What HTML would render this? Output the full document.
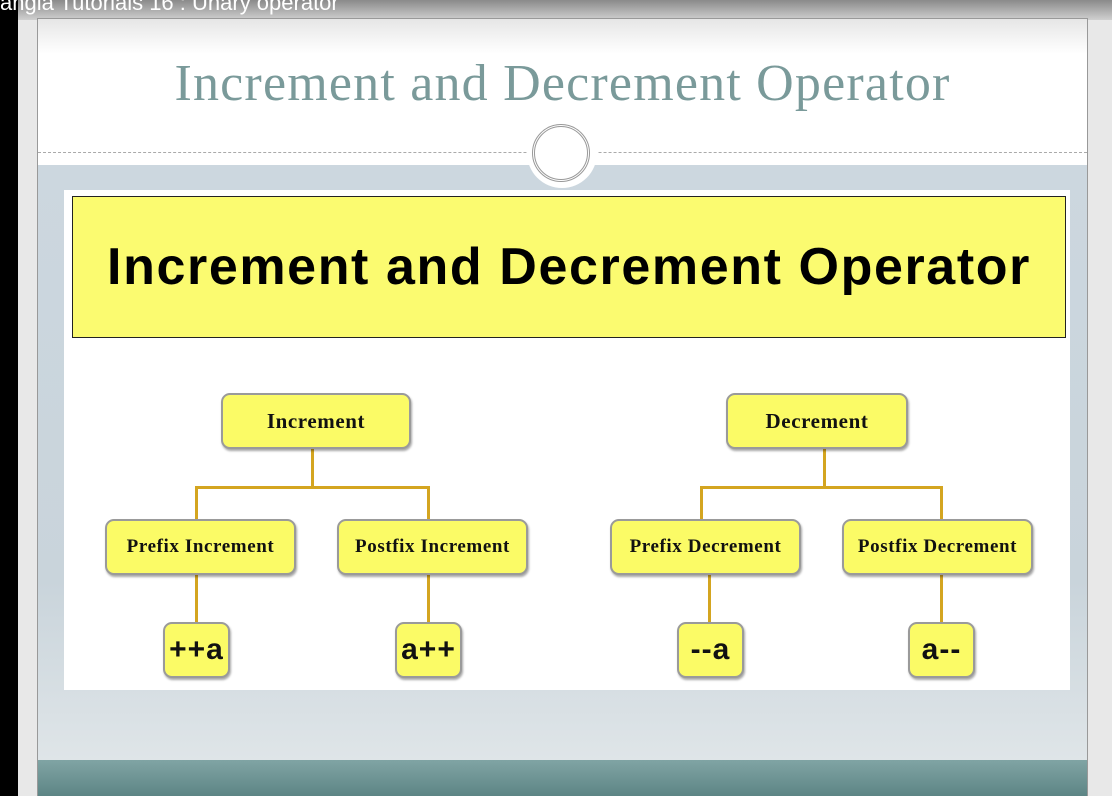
<!DOCTYPE html>
<html><head><style>
body{margin:0;width:1112px;height:796px;overflow:hidden;position:relative;background:#e8e8e8;font-family:"Liberation Serif",serif}
.abs{position:absolute}
.node{position:absolute;background:#fbfb66;border:2px solid #9a9a9a;border-radius:9px;box-shadow:1px 2px 2px rgba(0,0,0,.35);display:flex;align-items:center;justify-content:center;font-weight:bold;font-size:19px;letter-spacing:0.6px;color:#111;box-sizing:border-box;white-space:nowrap}
.leaf{font-family:"Liberation Sans",sans-serif;font-size:30px;letter-spacing:1px}
.l{position:absolute;background:#d4a520}
</style></head><body>
<div class="abs" style="left:0;top:0;width:18px;height:796px;background:#000"></div>
<div class="abs" style="left:18px;top:0;width:1094px;height:20px;background:linear-gradient(#8a8a8a,#d0d0d0)"></div>
<div class="abs" style="left:0;top:-10px;color:#fff;font-family:'Liberation Sans',sans-serif;font-size:22px">angla Tutorials 16 : Unary operator</div>
<div class="abs" style="left:37px;top:18px;width:1051px;height:778px;border:1px solid #999;box-sizing:border-box;background:linear-gradient(#e6e6e6,#fff 35px)"></div>
<div class="abs" style="left:38px;top:165px;width:1049px;height:595px;background:linear-gradient(#ccd7df,#c9d4db 70%,#dfe5e8)"></div>
<div class="abs" style="left:38px;top:760px;width:1049px;height:36px;background:linear-gradient(#80a4a4,#5d8585)"></div>
<div class="abs" style="left:38px;top:152px;width:1049px;border-top:1px dashed #aaa"></div>
<div class="abs" style="left:527px;top:118px;width:70px;height:70px;border-radius:50%;background:#fff"></div>
<div class="abs" style="top:124px;border-radius:50%;border:3px double #999;box-sizing:border-box;width:58px;height:58px;left:532px"></div>
<div class="abs" style="left:38px;top:54px;width:1049px;text-align:center;font-size:52px;letter-spacing:1.2px;color:#7a9a9a">Increment and Decrement Operator</div>
<div class="abs" style="left:64px;top:190px;width:1006px;height:500px;background:#fff"></div>
<div class="abs" style="left:72px;top:196px;width:994px;height:142px;background:#fbfb70;border:1.5px solid #222;box-sizing:border-box;display:flex;align-items:center;justify-content:center;font-family:'Liberation Sans',sans-serif;font-weight:bold;font-size:52px;letter-spacing:1.6px;color:#000;white-space:nowrap">Increment and Decrement Operator</div>

<div class="l" style="left:311px;top:448px;width:3px;height:40px"></div>
<div class="l" style="left:195px;top:486px;width:235px;height:3px"></div>
<div class="l" style="left:195px;top:486px;width:3px;height:34px"></div>
<div class="l" style="left:427px;top:486px;width:3px;height:34px"></div>
<div class="l" style="left:195px;top:574px;width:3px;height:48px"></div>
<div class="l" style="left:427px;top:574px;width:3px;height:48px"></div>

<div class="l" style="left:823px;top:448px;width:3px;height:40px"></div>
<div class="l" style="left:700px;top:486px;width:243px;height:3px"></div>
<div class="l" style="left:700px;top:486px;width:3px;height:34px"></div>
<div class="l" style="left:940px;top:486px;width:3px;height:34px"></div>
<div class="l" style="left:708px;top:574px;width:3px;height:48px"></div>
<div class="l" style="left:940px;top:574px;width:3px;height:48px"></div>

<div class="node" style="left:221px;top:393px;width:190px;height:56px;font-size:21px">Increment</div>
<div class="node" style="left:726px;top:393px;width:182px;height:56px;font-size:21px">Decrement</div>
<div class="node" style="left:105px;top:519px;width:191px;height:56px">Prefix Increment</div>
<div class="node" style="left:337px;top:519px;width:191px;height:56px">Postfix Increment</div>
<div class="node" style="left:610px;top:519px;width:191px;height:56px">Prefix Decrement</div>
<div class="node" style="left:842px;top:519px;width:191px;height:56px">Postfix Decrement</div>
<div class="node leaf" style="left:163px;top:622px;width:67px;height:56px">++a</div>
<div class="node leaf" style="left:395px;top:622px;width:67px;height:56px">a++</div>
<div class="node leaf" style="left:677px;top:622px;width:67px;height:56px">--a</div>
<div class="node leaf" style="left:908px;top:622px;width:67px;height:56px">a--</div>
</body></html>
